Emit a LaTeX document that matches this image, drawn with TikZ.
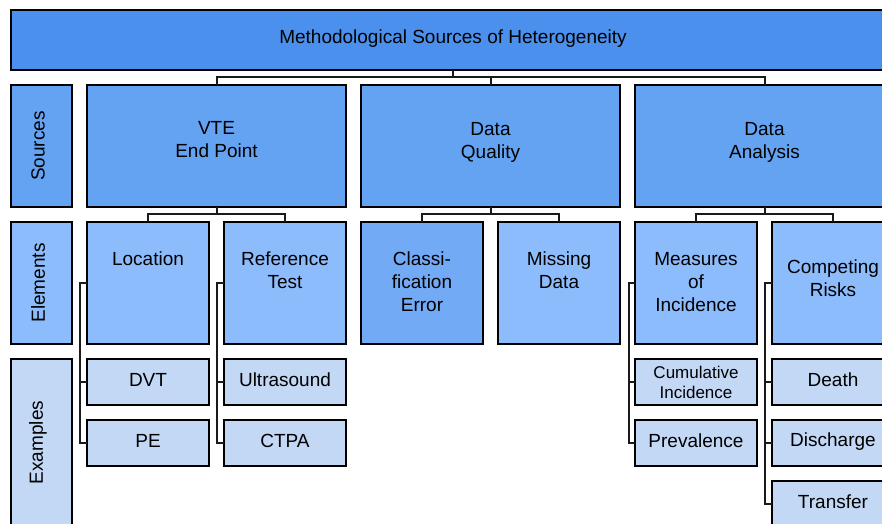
\documentclass[tikz,border=0pt]{standalone}
\usepackage{fontspec}
\setmainfont{Liberation Sans}
\definecolor{hdr}{HTML}{4A90EC}
\definecolor{rowA}{HTML}{64A2F2}
\definecolor{rowB}{HTML}{8DBCFC}
\definecolor{rowBdark}{HTML}{72AAF5}
\definecolor{rowC}{HTML}{C3D8F5}
\definecolor{linec}{HTML}{1A1A1A}
\tikzset{
  box/.style={draw=black, line width=1.6pt, rectangle, inner sep=0pt, outer sep=0pt},
  big/.style={box, minimum width=259pt, minimum height=122pt, fill=rowA},
  mid/.style={box, minimum width=122pt, minimum height=122pt, fill=rowB},
  ex/.style={box, minimum width=122pt, minimum height=46pt, fill=rowC},
  side/.style={box, minimum width=61pt},
  lbl/.style={font=\fontsize{19}{23}\selectfont, align=center, inner sep=0pt, text=black},
  small/.style={font=\fontsize{17}{20}\selectfont, align=center, inner sep=0pt, text=black},
  conn/.style={draw=linec, line width=2pt},
}
\begin{document}
\begin{tikzpicture}[x=1pt,y=-1pt]
\clip (0,0) rectangle (882,523);
\fill[white] (0,0) rectangle (882,523);

% header
\node[box, fill=hdr, minimum width=884pt, minimum height=60pt,
  label={[lbl, yshift=1pt]center:Methodological Sources of Heterogeneity}] (head) at (453,40) {};

% side labels
\node[side, fill=rowA, minimum height=122pt,
  label={[lbl, rotate=90, yshift=3.5pt]center:Sources}] (srcs) at (41.5,146) {};
\node[side, fill=rowB, minimum height=122pt,
  label={[lbl, rotate=90, yshift=3.5pt]center:Elements}] (elms) at (41.5,283) {};
\node[side, fill=rowC, minimum height=181pt,
  label={[lbl, rotate=90, xshift=7pt, yshift=3.5pt]center:Examples}] (exms) at (41.5,449.5) {};

% row 1
\node[big, label={[lbl, yshift=6.5pt]center:{VTE\\End Point}}] (vte) at (216.5,146) {};
\node[big, label={[lbl, yshift=4pt]center:{Data\\Quality}}] (dq) at (490.5,146) {};
\node[big, label={[lbl, yshift=4pt]center:{Data\\Analysis}}] (da) at (764.5,146) {};

% row 2
\node[mid, label={[lbl, yshift=24pt]center:Location}] (loc) at (148,283) {};
\node[mid, label={[lbl, yshift=12.5pt]center:{Reference\\Test}}] (ref) at (285,283) {};
\node[mid, fill=rowBdark, label={[lbl, yshift=1pt]center:{Classi-\\fication\\Error}}] (cls) at (422,283) {};
\node[mid, label={[lbl, yshift=12.5pt]center:{Missing\\Data}}] (mis) at (559,283) {};
\node[mid, label={[lbl, yshift=1pt]center:{Measures\\of\\Incidence}}] (moi) at (696,283) {};
\node[mid, label={[lbl, yshift=5pt]center:{Competing\\Risks}}] (cr) at (833,283) {};

% row 3
\node[ex, label={[lbl, yshift=2.5pt]center:DVT}] (dvt) at (148,382) {};
\node[ex, label={[lbl, yshift=2.5pt]center:PE}] (pe) at (148,443) {};
\node[ex, label={[lbl, yshift=2.5pt]center:Ultrasound}] (us) at (285,382) {};
\node[ex, label={[lbl, yshift=2.5pt]center:CTPA}] (ctpa) at (285,443) {};
\node[ex, label={[small, yshift=0pt]center:{Cumulative\\Incidence}}] (cum) at (696,382) {};
\node[ex, label={[lbl, yshift=2.5pt]center:Prevalence}] (prev) at (696,443) {};
\node[ex, label={[lbl, yshift=2.5pt]center:Death}] (death) at (833,382) {};
\node[ex, label={[lbl, yshift=1pt]center:Discharge}] (dis) at (833,443) {};
\node[ex, label={[lbl, yshift=2.5pt]center:Transfer}] (tra) at (833,504) {};

% connectors: header to sources
\coordinate (hc) at (453,70);
\draw[conn] (hc) -- ++(0,7) -| (vte.north);
\draw[conn] (hc) -- ++(0,7) -| (da.north);
\draw[conn] (hc) -- ++(0,7) -| (dq.north);

% sources to elements
\draw[conn] (vte.south) -- ++(0,7) -| (loc.north);
\draw[conn] (vte.south) -- ++(0,7) -| (ref.north);
\draw[conn] (dq.south) -- ++(0,7) -| (cls.north);
\draw[conn] (dq.south) -- ++(0,7) -| (mis.north);
\draw[conn] (da.south) -- ++(0,7) -| (moi.north);
\draw[conn] (da.south) -- ++(0,7) -| (cr.north);

% elements to examples
\draw[conn] (loc.west) -- ++(-7,0) |- (dvt.west);
\draw[conn] (loc.west) -- ++(-7,0) |- (pe.west);
\draw[conn] (ref.west) -- ++(-7,0) |- (us.west);
\draw[conn] (ref.west) -- ++(-7,0) |- (ctpa.west);
\draw[conn] (moi.west) -- ++(-6,0) |- (cum.west);
\draw[conn] (moi.west) -- ++(-6,0) |- (prev.west);
\draw[conn] (cr.west) -- ++(-7,0) |- (death.west);
\draw[conn] (cr.west) -- ++(-7,0) |- (dis.west);
\draw[conn] (cr.west) -- ++(-7,0) |- (tra.west);
\end{tikzpicture}
\end{document}
